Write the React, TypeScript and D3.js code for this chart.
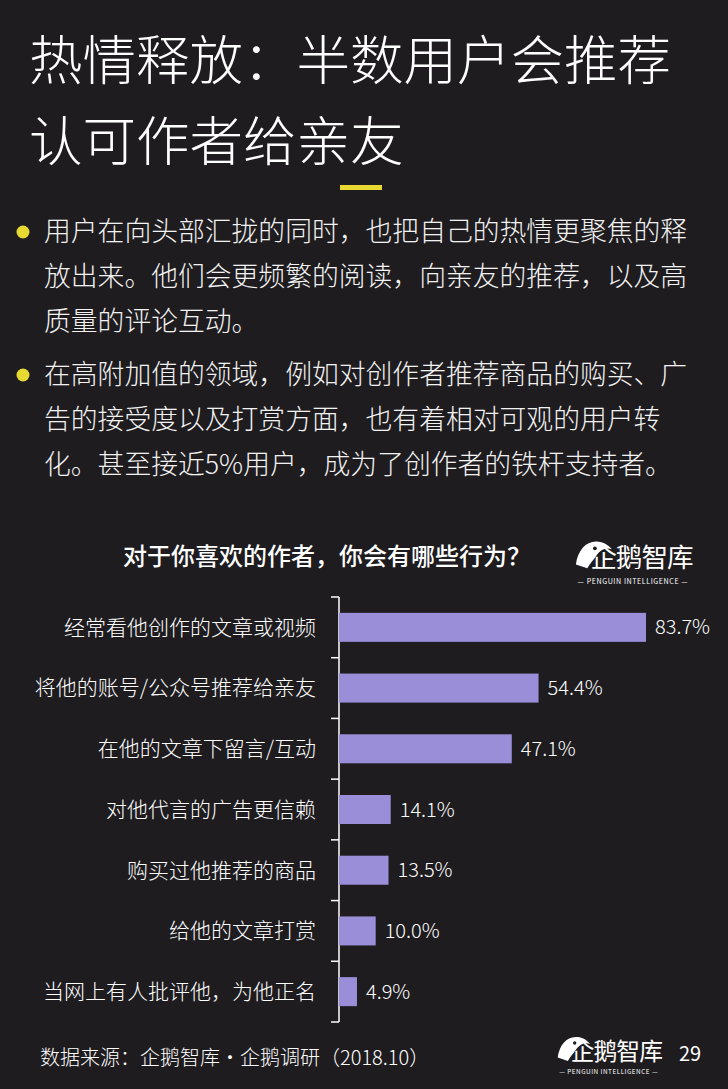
import React, { useEffect } from "react";
import * as d3 from "d3";

const W = 728;
const H = 1089;

const titleLines = ["热情释放：半数用户会推荐", "认可作者给亲友"];
const bullet1Lines = [
  "用户在向头部汇拢的同时，也把自己的热情更聚焦的释",
  "放出来。他们会更频繁的阅读，向亲友的推荐，以及高",
  "质量的评论互动。",
];
const bullet2Lines = [
  "在高附加值的领域，例如对创作者推荐商品的购买、广",
  "告的接受度以及打赏方面，也有着相对可观的用户转",
  "化。甚至接近5%用户，成为了创作者的铁杆支持者。",
];
const chartTitle = "对于你喜欢的作者，你会有哪些行为？";
const categories = [
  "经常看他创作的文章或视频",
  "将他的账号/公众号推荐给亲友",
  "在他的文章下留言/互动",
  "对他代言的广告更信赖",
  "购买过他推荐的商品",
  "给他的文章打赏",
  "当网上有人批评他，为他正名",
];
const values = [83.7, 54.4, 47.1, 14.1, 13.5, 10.0, 4.9];
const sourceText = "数据来源：企鹅智库·企鹅调研（2018.10）";
const pageNumber = "29";

const BG = "#1e1c1f";
const BAR = "#9a8ed8";
const YELLOW = "#e8d832";
const FONT = "'Noto Sans CJK SC', 'Noto Sans', sans-serif";

function Logo({ x, y, s }: { x: number; y: number; s: number }) {
  return (
    <g transform={`translate(${x},${y}) scale(${s})`}>
      <path d="M2,30 C4,14 14,4 26,6 C34,7 38,12 40,14 C34,12 28,14 24,20 C20,26 16,30 14,34 Z" fill="#fff" />
      <circle cx="22" cy="13" r="2" fill={BG} />
      <text x="17" y="33" fill="#fff" fontFamily={FONT} fontSize={28} fontWeight={400} letterSpacing={-1}>
        企鹅智库
      </text>
      <text x="62" y="50" fill="#fff" fontFamily={FONT} fontSize={7.5} textAnchor="middle" letterSpacing={0.6}>
        — PENGUIN INTELLIGENCE —
      </text>
    </g>
  );
}

export default function App() {
  useEffect(() => {
    document.body.style.margin = "0";
    document.body.style.background = BG;
  }, []);

  const y = d3.scaleBand<string>().domain(categories).range([597, 1022]).paddingInner(0.522).paddingOuter(0.261);
  const x = d3.scaleLinear().domain([0, 100]).range([339, 339 + 366.8]);
  const step = y.step();
  const tickYs = d3.range(categories.length + 1).map((i) => 597 + i * step);

  return (
    <svg width={W} height={H} style={{ display: "block" }}>
      <rect x={0} y={0} width={W} height={H} fill={BG} />
      {titleLines.map((t, i) => (
        <text key={i} x={29} y={80 + i * 81} fill="#fff" fontFamily={FONT} fontWeight={300} fontSize={53.5}>
          {t}
        </text>
      ))}
      <rect x={340} y={185} width={42} height={5} fill={YELLOW} />

      {[bullet1Lines, bullet2Lines].map((lines, bi) => {
        const y0 = bi === 0 ? 232 : 375;
        return (
          <g key={bi}>
            <circle cx={23} cy={y0} r={6.5} fill={YELLOW} />
            {lines.map((t, i) => (
              <text
                key={i}
                x={44}
                y={y0 + i * 45}
                dy="0.35em"
                fill="#f2f2f2"
                fontFamily={FONT}
                fontWeight={300}
                fontSize={26.8}
              >
                {t}
              </text>
            ))}
          </g>
        );
      })}

      <text x={123} y={557} dy="0.35em" fill="#fff" fontFamily={FONT} fontWeight={500} fontSize={24}>
        {chartTitle}
      </text>
      <Logo x={574} y={536} s={0.95} />

      <line x1={339} x2={339} y1={597} y2={1022} stroke="#fff" strokeWidth={1.5} />
      {tickYs.map((ty, i) => (
        <line key={i} x1={331} x2={339} y1={ty} y2={ty} stroke="#fff" strokeWidth={1.5} />
      ))}
      {categories.map((c, i) => {
        const by = y(c)!;
        const bh = y.bandwidth();
        return (
          <g key={c}>
            <rect x={x(0)} y={by} width={x(values[i]) - x(0)} height={bh} fill={BAR} />
            <text
              x={316}
              y={by + bh / 2}
              dy="0.35em"
              textAnchor="end"
              fill="#fff"
              fontFamily={FONT}
              fontWeight={300}
              fontSize={21}
            >
              {c}
            </text>
            <text
              x={x(values[i]) + 9}
              y={by + bh / 2}
              dy="0.35em"
              fill="#fff"
              fontFamily={FONT}
              fontWeight={300}
              fontSize={20}
            >
              {values[i].toFixed(1) + "%"}
            </text>
          </g>
        );
      })}

      <text x={40} y={1058} dy="0.35em" fill="#fff" fontFamily={FONT} fontWeight={300} fontSize={20}>
        {sourceText}
      </text>
      <Logo x={556} y={1032} s={0.85} />
      <text x={679} y={1054} dy="0.35em" fill="#fff" fontFamily={FONT} fontWeight={400} fontSize={20}>
        {pageNumber}
      </text>
    </svg>
  );
}
